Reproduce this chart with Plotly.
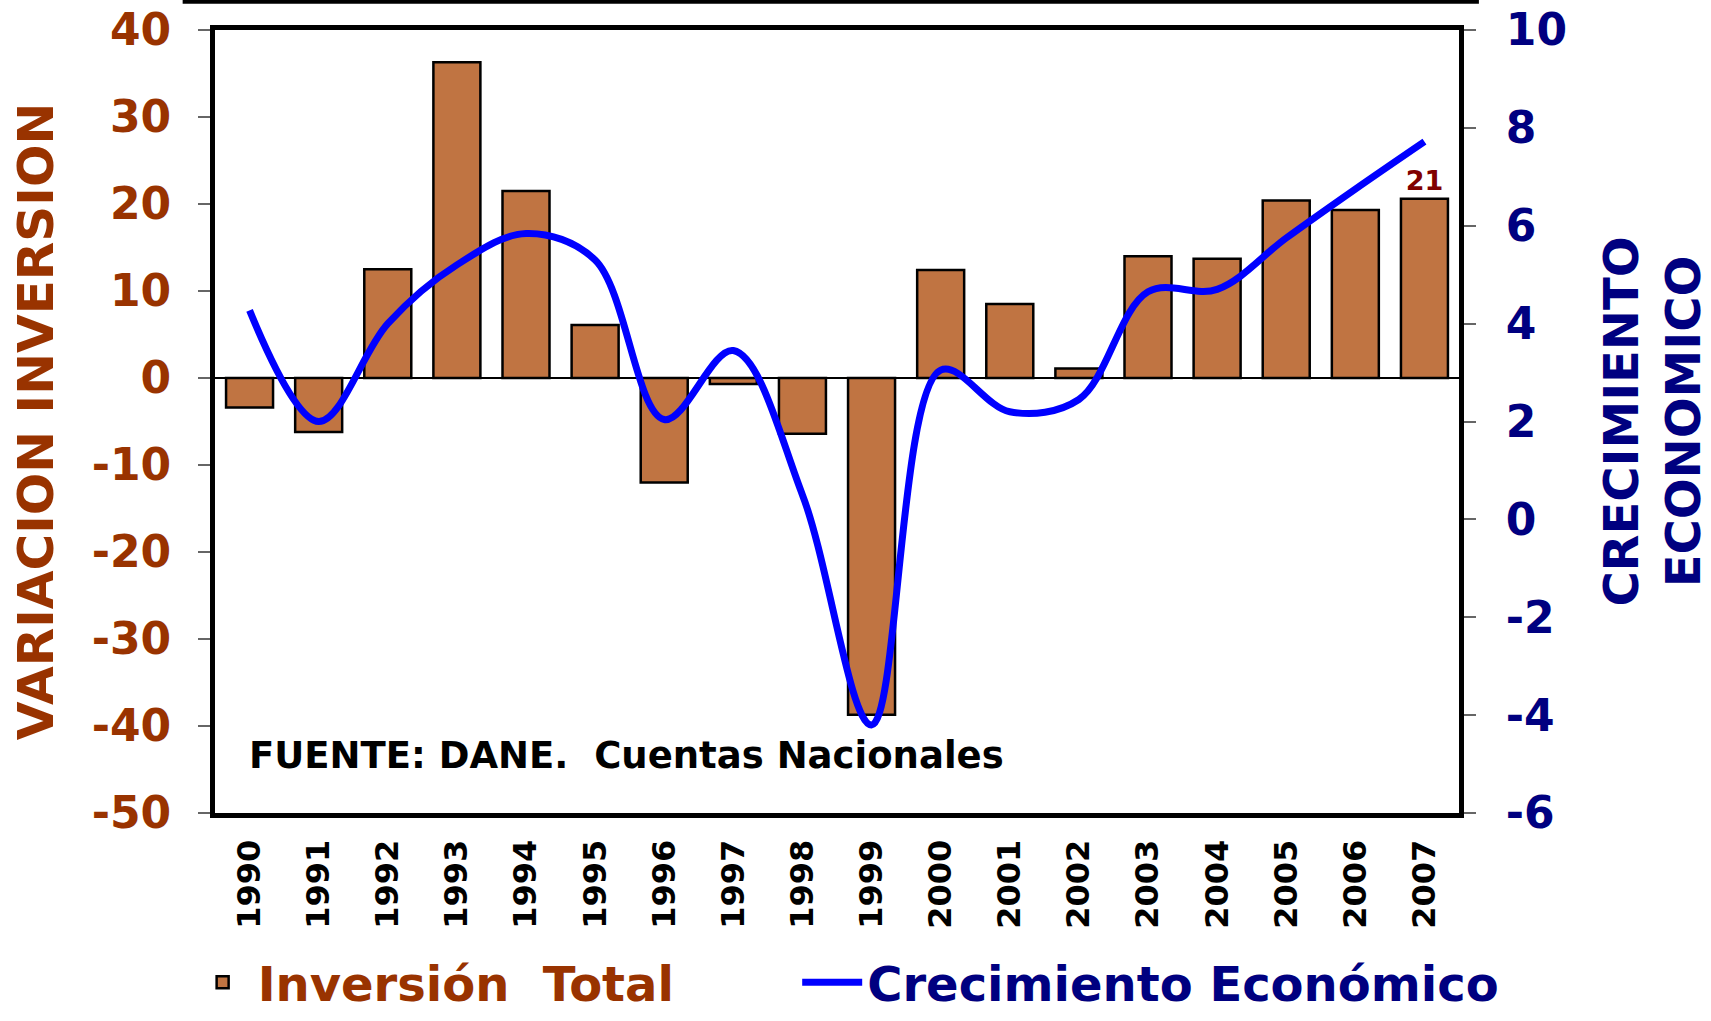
import plotly.graph_objects as go

years = ["1990", "1991", "1992", "1993", "1994", "1995", "1996", "1997", "1998",
         "1999", "2000", "2001", "2002", "2003", "2004", "2005", "2006", "2007"]
inversion_total = [-3.4, -6.2, 12.5, 36.3, 21.5, 6.1, -12.0, -0.7, -6.4,
                   -38.7, 12.4, 8.5, 1.1, 14.0, 13.7, 20.4, 19.3, 20.6]
crecimiento = [4.27, 2.0, 4.0, 5.2, 5.84, 5.3, 2.04, 3.45, 0.5,
               -4.2, 3.05, 2.2, 2.45, 4.65, 4.7, 5.75, 6.75, 7.72]

left_ticks = [-50, -40, -30, -20, -10, 0, 10, 20, 30, 40]
right_ticks = [-6, -4, -2, 0, 2, 4, 6, 8, 10]
LEFT_RANGE = [left_ticks[0], left_ticks[-1]]
RIGHT_RANGE = [right_ticks[0], right_ticks[-1]]

FONT = "DejaVu Sans"
BROWN = "#993300"
NAVY = "#000080"

bar_text = ["" for _ in inversion_total]
bar_text[-1] = f"{inversion_total[-1]:.0f}"

fig = go.Figure()
fig.add_trace(go.Bar(
    x=years, y=inversion_total,
    name=f"<span style='color:{BROWN}'>Inversión  Total</span>",
    marker=dict(color="#C07442", line=dict(color="black", width=2.5)),
    width=0.68,
    text=bar_text, textposition="outside",
    textfont=dict(family=FONT, size=27, color="#800000", weight="bold"),
    cliponaxis=False,
    legend="legend",
))
fig.add_trace(go.Scatter(
    x=years, y=crecimiento, yaxis="y2", mode="lines",
    name=f"<span style='color:{NAVY}'>Crecimiento Económico</span>",
    line=dict(color="#0000FF", width=7, shape="spline", smoothing=1.0),
    legend="legend2",
))

zero_frac = (0 - LEFT_RANGE[0]) / (LEFT_RANGE[1] - LEFT_RANGE[0])

fig.update_layout(
    width=1711, height=1021,
    margin=dict(l=215, r=252, t=30, b=208, autoexpand=False),
    paper_bgcolor="white", plot_bgcolor="white",
    font=dict(family=FONT, weight="bold"),
    bargap=0.32,
    xaxis=dict(
        type="category", categoryorder="array", categoryarray=years,
        range=[-0.5, len(years) - 0.5],
        showline=True, linewidth=5, linecolor="black", mirror=True,
        ticks="", tickangle=-90, ticklabelstandoff=9,
        tickfont=dict(family=FONT, size=32, color="black", weight="bold"),
        showgrid=False, zeroline=False,
    ),
    xaxis2=dict(
        overlaying="x", anchor="free", position=zero_frac,
        range=[-0.5, len(years) - 0.5],
        tickvals=[i + 0.5 for i in range(len(years) - 1)],
        ticks="outside", ticklen=12, tickwidth=1.5, tickcolor="#777777",
        showticklabels=False, showline=False, showgrid=False, zeroline=False,
    ),
    yaxis=dict(
        range=LEFT_RANGE, tickvals=left_ticks, ticktext=[str(v) for v in left_ticks],
        showline=True, linewidth=5, linecolor="black", mirror=True,
        ticks="outside", ticklen=12, tickwidth=1.5, tickcolor="#666666",
        ticklabelstandoff=18,
        tickfont=dict(family=FONT, size=44, color=BROWN, weight="bold"),
        showgrid=False, zeroline=True, zerolinecolor="black", zerolinewidth=1.5,
        title=dict(text="VARIACION INVERSION", standoff=24,
                   font=dict(family=FONT, size=50, color=BROWN, weight="bold")),
    ),
    yaxis2=dict(
        overlaying="y", side="right", range=RIGHT_RANGE,
        tickvals=right_ticks, ticktext=[str(v) for v in right_ticks],
        showline=True, linewidth=5, linecolor="black",
        ticks="outside", ticklen=12, tickwidth=1.5, tickcolor="#666666",
        ticklabelstandoff=21,
        tickfont=dict(family=FONT, size=44, color=NAVY, weight="bold"),
        showgrid=False, zeroline=False,
        title=dict(text="CRECIMIENTO<br>ECONOMICO", standoff=40,
                   font=dict(family=FONT, size=48, color=NAVY, weight="bold")),
    ),
    legend=dict(
        orientation="h", x=-0.022, xanchor="left", y=-0.265, yanchor="bottom",
        font=dict(family=FONT, size=48, weight="bold"),
        bgcolor="rgba(0,0,0,0)", itemwidth=60,
    ),
    legend2=dict(
        orientation="h", x=0.468, xanchor="left", y=-0.265, yanchor="bottom",
        font=dict(family=FONT, size=48, weight="bold"),
        bgcolor="rgba(0,0,0,0)", itemwidth=60,
    ),
    showlegend=True,
)

fig.add_annotation(
    text="FUENTE: DANE.  Cuentas Nacionales",
    xref="paper", yref="paper", x=0.0254, y=0.073, xanchor="left", yanchor="middle",
    showarrow=False,
    font=dict(family=FONT, size=37, color="black", weight="bold"),
)

fig.add_shape(
    type="line", xref="paper", yref="paper",
    x0=-0.026, x1=1.016, y0=1.036, y1=1.036,
    line=dict(color="black", width=4),
)

fig.write_html("out.html", config={"displayModeBar": False},
               post_script="document.body.style.margin='0';")
